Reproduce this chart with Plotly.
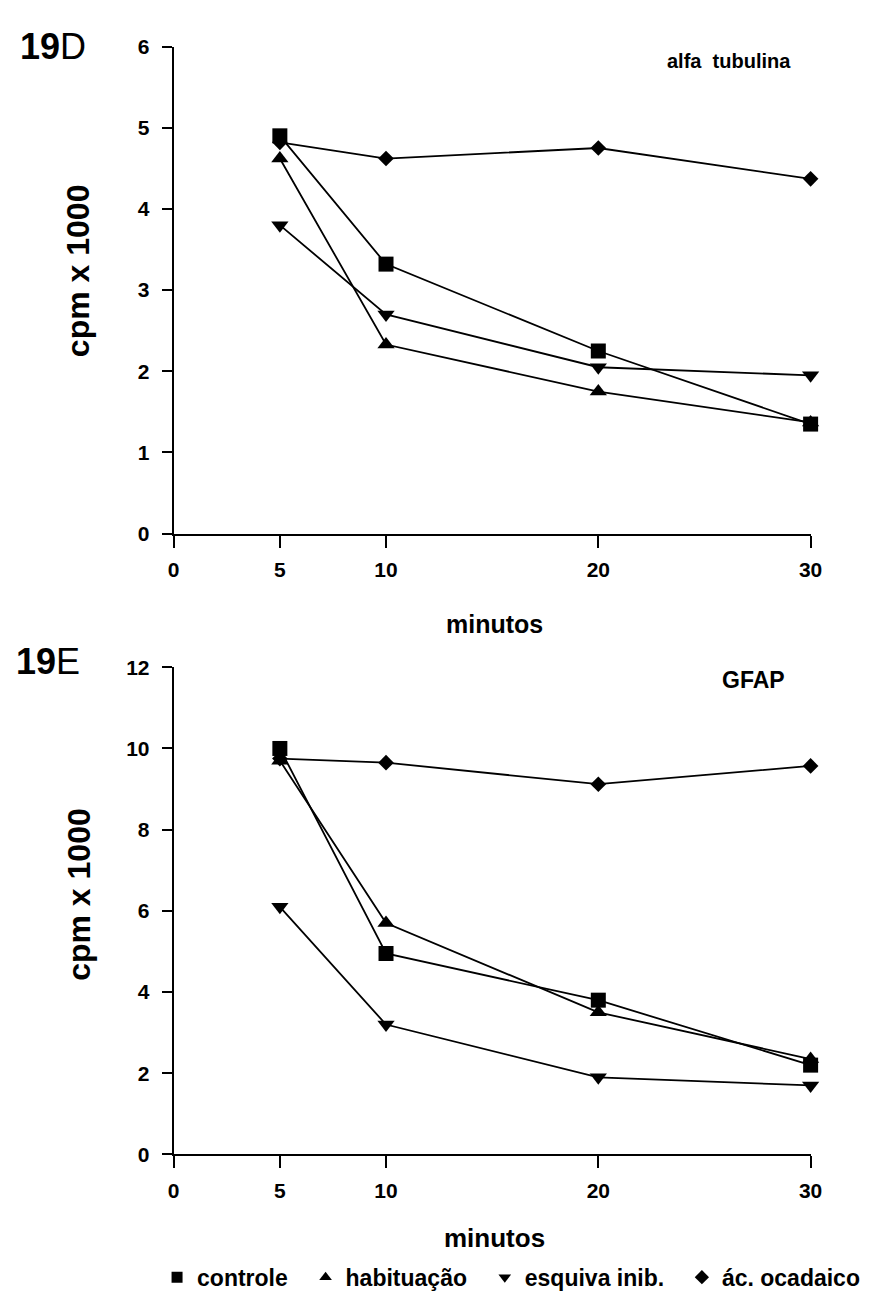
import plotly.graph_objects as go

minutos = [5, 10, 20, 30]
series_names = ["controle", "habituação", "esquiva inib.", "ác. ocadaico"]
symbols = ["square", "triangle-up", "triangle-down", "diamond"]

# 19D alfa tubulina (cpm x 1000)
tub_controle = [4.90, 3.32, 2.25, 1.35]
tub_habituacao = [4.62, 2.33, 1.75, 1.37]
tub_esquiva = [3.80, 2.70, 2.05, 1.95]
tub_ocadaico = [4.82, 4.62, 4.75, 4.37]

# 19E GFAP (cpm x 1000)
gfap_controle = [10.0, 4.95, 3.80, 2.20]
gfap_habituacao = [9.70, 5.70, 3.50, 2.35]
gfap_esquiva = [6.10, 3.20, 1.90, 1.70]
gfap_ocadaico = [9.75, 9.65, 9.12, 9.57]

x_ticks = [0, 5, 10, 20, 30]
y_ticks_top = [0, 1, 2, 3, 4, 5, 6]
y_ticks_bot = [0, 2, 4, 6, 8, 10, 12]

W, H = 893, 1292
fig = go.Figure()

sizes = [15, 15, 15, 12]
top = [tub_controle, tub_habituacao, tub_esquiva, tub_ocadaico]
bot = [gfap_controle, gfap_habituacao, gfap_esquiva, gfap_ocadaico]

for name, sym, sz, ys in zip(series_names, symbols, sizes, top):
    fig.add_trace(go.Scatter(x=minutos, y=ys, mode="lines+markers", name=name,
                             line=dict(color="black", width=1.8),
                             marker=dict(symbol=sym, size=sz, color="black"),
                             showlegend=False, cliponaxis=False,
                             xaxis="x", yaxis="y"))
for name, sym, sz, ys in zip(series_names, symbols, sizes, bot):
    fig.add_trace(go.Scatter(x=minutos, y=ys, mode="lines+markers", name=name,
                             line=dict(color="black", width=1.8),
                             marker=dict(symbol=sym, size=sz, color="black"),
                             showlegend=False, cliponaxis=False,
                             xaxis="x2", yaxis="y2"))
pad = "\u00a0" * 2
for name, sym in zip(series_names, symbols):
    fig.add_trace(go.Scatter(x=[None], y=[None], mode="markers", name=name + pad,
                             marker=dict(symbol=sym, size=11, color="black"),
                             showlegend=True, xaxis="x2", yaxis="y2"))

def px_x(p):
    return p / W

def px_y(p):
    return 1 - p / H

xdom = [px_x(163), px_x(813)]
fam = "Liberation Sans"

axis_common = dict(showgrid=False, zeroline=False, showline=True, linecolor="black",
                   linewidth=2, ticks="outside", tickcolor="black", tickwidth=2)

def tf(size):
    return dict(family=fam, size=size, color="black", weight="bold")

fig.update_layout(
    width=W, height=H, autosize=False,
    margin=dict(l=0, r=0, t=0, b=0),
    paper_bgcolor="white", plot_bgcolor="white",
    xaxis=dict(domain=xdom, range=[0, 30], tickvals=x_ticks, ticklen=12,
               tickfont=tf(21), anchor="y", ticklabelstandoff=4, **axis_common),
    yaxis=dict(domain=[px_y(523), px_y(27)], range=[0, 6], tickvals=y_ticks_top, ticklen=10,
               tickfont=tf(21), anchor="x", ticklabelstandoff=8, **axis_common),
    xaxis2=dict(domain=xdom, range=[0, 30], tickvals=x_ticks, ticklen=12,
                tickfont=tf(21), anchor="y2", ticklabelstandoff=4, **axis_common),
    yaxis2=dict(domain=[px_y(1155), px_y(659)], range=[0, 12], tickvals=y_ticks_bot, ticklen=10,
                tickfont=tf(21), anchor="x2", ticklabelstandoff=8, **axis_common),
    legend=dict(orientation="h", x=px_x(146), y=px_y(1280), xanchor="left", yanchor="middle",
                font=tf(23), itemwidth=30, tracegroupgap=0, bgcolor="rgba(0,0,0,0)"),
    font=dict(family=fam, color="black"),
)

ann = [
    dict(text="<b>19</b>D", x=px_x(4), y=px_y(27), xanchor="left", yanchor="middle",
         font=dict(family=fam, size=36)),
    dict(text="<b>19</b>E", x=px_x(0), y=px_y(653), xanchor="left", yanchor="middle",
         font=dict(family=fam, size=36)),
    dict(text="<b>alfa  tubulina</b>", x=px_x(730), y=px_y(42), xanchor="center", yanchor="middle",
         font=dict(family=fam, size=20)),
    dict(text="<b>GFAP</b>", x=px_x(755), y=px_y(672), xanchor="center", yanchor="middle",
         font=dict(family=fam, size=23)),
    dict(text="<b>cpm x 1000</b>", x=px_x(66), y=px_y(255), textangle=-90, xanchor="center",
         yanchor="middle", font=dict(family=fam, size=32)),
    dict(text="<b>cpm x 1000</b>", x=px_x(66), y=px_y(890), textangle=-90, xanchor="center",
         yanchor="middle", font=dict(family=fam, size=32)),
    dict(text="<b>minutos</b>", x=px_x(490), y=px_y(615), xanchor="center", yanchor="middle",
         font=dict(family=fam, size=25)),
    dict(text="<b>minutos</b>", x=px_x(490), y=px_y(1240), xanchor="center", yanchor="middle",
         font=dict(family=fam, size=26)),
]
for a in ann:
    a.update(xref="paper", yref="paper", showarrow=False)
    a["font"]["color"] = "black"
fig.update_layout(annotations=ann)

fig.write_html("out.html")
